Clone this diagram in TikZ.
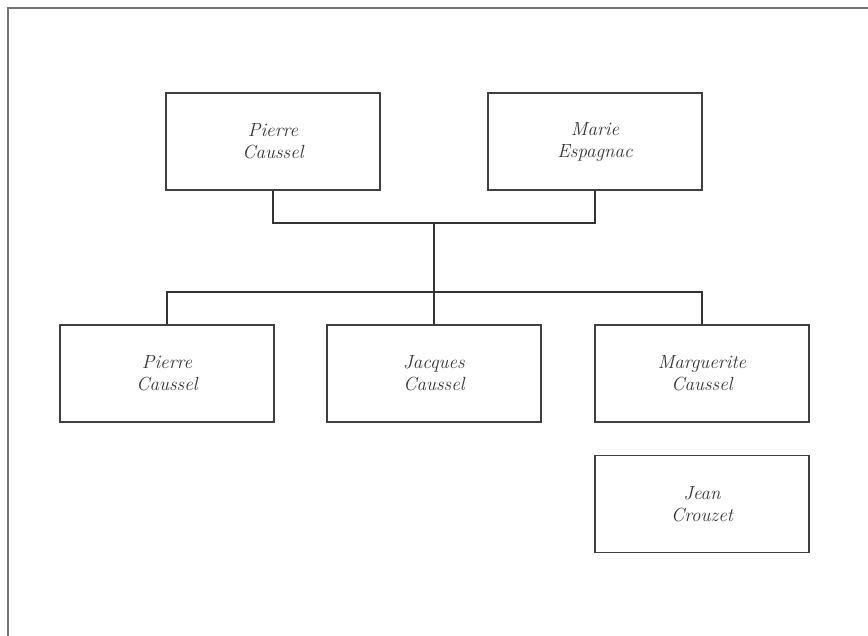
\documentclass[tikz,border=0pt]{standalone}
\begin{document}
\begin{tikzpicture}[x=1pt,y=-1pt,
  person/.style={draw=black!75, line width=1.4pt, minimum width=214pt, minimum height=97pt, align=center, inner sep=0pt, font=\fontsize{19}{22}\selectfont\itshape, text=black!80},
  link/.style={draw=black!80, line width=1.4pt}]
\useasboundingbox (0,0) rectangle (868,636);
\draw[draw=black!55, line width=1.4pt] (868,8) -- (8,8) -- (8,636);
\node[person] (pc) at (273,141.5) {Pierre\\Caussel};
\node[person] (me) at (595,141.5) {Marie\\Espagnac};
\node[person] (pc2) at (167,373.5) {Pierre\\Caussel};
\node[person] (jc) at (434,373.5) {Jacques\\Caussel};
\node[person] (mc) at (702,373.5) {Marguerite\\Caussel};
\node[person] (jcr) at (702,504) {Jean\\Crouzet};
\coordinate (mid) at (434,223);
\coordinate (bar) at (434,292);
\draw[link] (pc.south) |- (mid) -| (me.south);
\draw[link] (mid) -- (bar);
\draw[link] (pc2.north) |- (bar) -| (mc.north);
\draw[link] (bar) -- (jc.north);
\end{tikzpicture}
\end{document}
